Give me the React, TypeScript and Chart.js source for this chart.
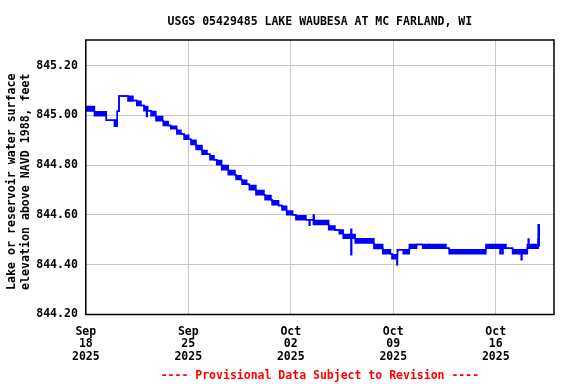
import React, { useEffect, useRef } from 'react';
import { Chart, registerables } from 'chart.js';

Chart.register(...registerables);

// Day offsets from 2025-09-18 00:00 where the reading band changes
const segDays = [
  0.00, 0.59, 1.40, 1.95, 2.00, 2.06, 2.15, 2.27, 2.88, 3.22, 3.48, 3.77, 3.97, 4.15, 4.20, 4.23,
  4.45, 4.79, 5.25, 5.29, 5.63, 5.80, 6.21, 6.50, 6.71, 7.03, 7.18, 7.53, 7.94, 8.28, 8.48, 8.76,
  8.94, 9.28, 9.73, 10.19, 10.26, 10.60, 10.67, 10.99, 11.17, 11.62, 12.17, 12.24, 12.65, 12.72,
  13.17, 13.40, 13.72, 14.13, 14.35, 15.04, 15.26, 15.31, 15.54, 15.60, 16.59, 17.02, 17.31, 17.58,
  18.11, 18.16, 18.40, 19.68, 20.28, 20.81, 20.91, 21.25, 21.29, 21.68, 22.10, 22.60, 23.01, 23.39,
  23.46, 24.60, 24.82, 26.19, 26.29, 27.33, 28.29, 28.34, 28.45, 28.50, 28.70, 29.15, 29.74, 29.79,
  30.16, 30.22, 30.27, 30.90, 30.97,
];
// Lowest reading within each band (ft)
const segLo = [
  845.018, 844.999, 844.981, 844.956, 844.981, 844.956, 845.017, 845.078, 845.058, 845.060, 845.040, 845.040, 845.019, 844.996, 845.019, 845.019,
  844.999, 844.979, 844.979, 844.959, 844.959, 844.946, 844.925, 844.925, 844.904, 844.904, 844.883, 844.863, 844.844, 844.844, 844.822, 844.822,
  844.802, 844.782, 844.762, 844.762, 844.742, 844.742, 844.723, 844.723, 844.701, 844.681, 844.681, 844.661, 844.661, 844.641,
  844.638, 844.620, 844.601, 844.601, 844.581, 844.581, 844.559, 844.581, 844.562, 844.562, 844.541, 844.540, 844.524, 844.506,
  844.440, 844.506, 844.487, 844.465, 844.444, 844.444, 844.424, 844.400, 844.460, 844.444, 844.466, 844.481, 844.466, 844.481,
  844.466, 844.466, 844.444, 844.460, 844.444, 844.466, 844.444, 844.466, 844.444, 844.466, 844.466, 844.444, 844.420, 844.444,
  844.466, 844.466, 844.466, 844.503, 844.476,
];
// Highest reading within each band (ft)
const segHi = [
  845.036, 845.015, 844.981, 844.981, 844.981, 844.981, 845.017, 845.078, 845.077, 845.060, 845.057, 845.040, 845.036, 845.036, 845.036, 845.019,
  845.016, 844.996, 844.979, 844.976, 844.959, 844.956, 844.940, 844.925, 844.920, 844.904, 844.900, 844.879, 844.859, 844.844, 844.838, 844.822,
  844.819, 844.799, 844.779, 844.762, 844.758, 844.742, 844.739, 844.723, 844.718, 844.698, 844.681, 844.678, 844.661, 844.657,
  844.638, 844.635, 844.616, 844.601, 844.597, 844.581, 844.581, 844.581, 844.600, 844.578, 844.556, 844.540, 844.540, 844.521,
  844.543, 844.521, 844.504, 844.481, 844.460, 844.444, 844.440, 844.440, 844.460, 844.460, 844.481, 844.481, 844.481, 844.481,
  844.481, 844.466, 844.460, 844.460, 844.460, 844.481, 844.481, 844.481, 844.481, 844.481, 844.466, 844.460, 844.460, 844.460,
  844.481, 844.503, 844.481, 844.561, 844.543,
];
const endDay = 31.03;

const tickDays = [0, 7, 14, 21, 28];
const tickLabels = [
  ['Sep', '18', '2025'],
  ['Sep', '25', '2025'],
  ['Oct', '02', '2025'],
  ['Oct', '09', '2025'],
  ['Oct', '16', '2025'],
];
const yTicks = [844.2, 844.4, 844.6, 844.8, 845.0, 845.2];

const titleText = 'USGS 05429485 LAKE WAUBESA AT MC FARLAND, WI';
const yTitle = ['Lake or reservoir water surface', 'elevation above NAVD 1988, feet'];
const footerText = '---- Provisional Data Subject to Revision ----';

const FONT = "'DejaVu Sans Mono', monospace";

const framePlugin = {
  id: 'frame',
  afterDatasetsDraw(chart: any) {
    const { ctx, chartArea } = chart;
    const { left, top, right, bottom } = chartArea;
    ctx.save();
    ctx.strokeStyle = '#000000';
    ctx.lineWidth = 1.5;
    ctx.strokeRect(left, top, right - left, bottom - top);
    ctx.restore();
  },
};

// Two-line rotated y-axis title, placed like the reference
const yTitlePlugin = {
  id: 'yTitle',
  afterDraw(chart: any) {
    const { ctx } = chart;
    ctx.save();
    ctx.font = `bold 11.6px ${FONT}`;
    ctx.fillStyle = '#000000';
    ctx.textAlign = 'center';
    ctx.textBaseline = 'middle';
    const cy = 181.7;
    const xs = [11.8, 25.6];
    yTitle.forEach((line, i) => {
      ctx.save();
      ctx.translate(xs[i], cy);
      ctx.rotate(-Math.PI / 2);
      ctx.fillText(line, 0, 0);
      ctx.restore();
    });
    ctx.restore();
  },
};

export default function App() {
  const ref = useRef<HTMLCanvasElement | null>(null);

  useEffect(() => {
    if (!ref.current) return;
    const hiPts = segDays.map((d, i) => ({ x: d, y: segHi[i] }));
    const loPts = segDays.map((d, i) => ({ x: d, y: segLo[i] }));
    hiPts.push({ x: endDay, y: segHi[segHi.length - 1] });
    loPts.push({ x: endDay, y: segLo[segLo.length - 1] });

    const font = { family: FONT, size: 11.5, weight: 'bold' as const };

    const chart = new Chart(ref.current, {
      type: 'line',
      data: {
        datasets: [
          {
            data: hiPts,
            borderColor: '#0000ff',
            borderWidth: 1.5,
            stepped: true,
            pointRadius: 0,
            fill: false,
          },
          {
            data: loPts,
            borderColor: '#0000ff',
            backgroundColor: '#0000ff',
            borderWidth: 1.5,
            stepped: true,
            pointRadius: 0,
            fill: '-1',
          },
        ],
      },
      options: {
        animation: false,
        responsive: false,
        devicePixelRatio: 1,
        layout: { padding: { top: 0, right: 22, bottom: 0, left: 0 } },
        plugins: {
          legend: { display: false },
          tooltip: { enabled: false },
          title: {
            display: true,
            text: titleText,
            fullSize: false,
            color: '#000000',
            font: { ...font, lineHeight: 1.2 },
            padding: { top: 15, bottom: 11.2 },
          },
          subtitle: {
            display: true,
            position: 'bottom',
            text: footerText,
            fullSize: false,
            color: '#ff0000',
            font: { ...font, lineHeight: 1.2 },
            padding: { top: 1.5, bottom: 1.1 },
          },
        },
        scales: {
          x: {
            type: 'linear',
            min: 0,
            max: 31.98,
            afterBuildTicks: (s: any) => {
              s.ticks = tickDays.map((v) => ({ value: v }));
            },
            afterFit: (s: any) => {
              s.height = 53.1;
            },
            ticks: {
              autoSkip: false,
              maxRotation: 0,
              padding: 11,
              color: '#000000',
              font: { ...font, lineHeight: 1.1 },
              callback: (_v: any, i: number) => tickLabels[i],
            },
            grid: { color: '#c8c8c8', lineWidth: 1, drawTicks: false },
            border: { display: false },
          },
          y: {
            min: 844.2,
            max: 845.303,
            afterBuildTicks: (s: any) => {
              s.ticks = yTicks.map((v) => ({ value: v }));
            },
            afterFit: (s: any) => {
              s.width = 85.8;
            },
            ticks: {
              padding: 8,
              color: '#000000',
              font,
              callback: (v: any) => Number(v).toFixed(2),
            },
            grid: { color: '#c8c8c8', lineWidth: 1, drawTicks: false },
            border: { display: false },
          },
        },
      },
      plugins: [framePlugin, yTitlePlugin],
    });
    return () => chart.destroy();
  }, []);

  return (
    <div style={{ position: 'absolute', left: 0, top: 0, width: 576, height: 384, background: '#ffffff' }}>
      <canvas ref={ref} width={576} height={384} style={{ display: 'block' }} />
    </div>
  );
}
